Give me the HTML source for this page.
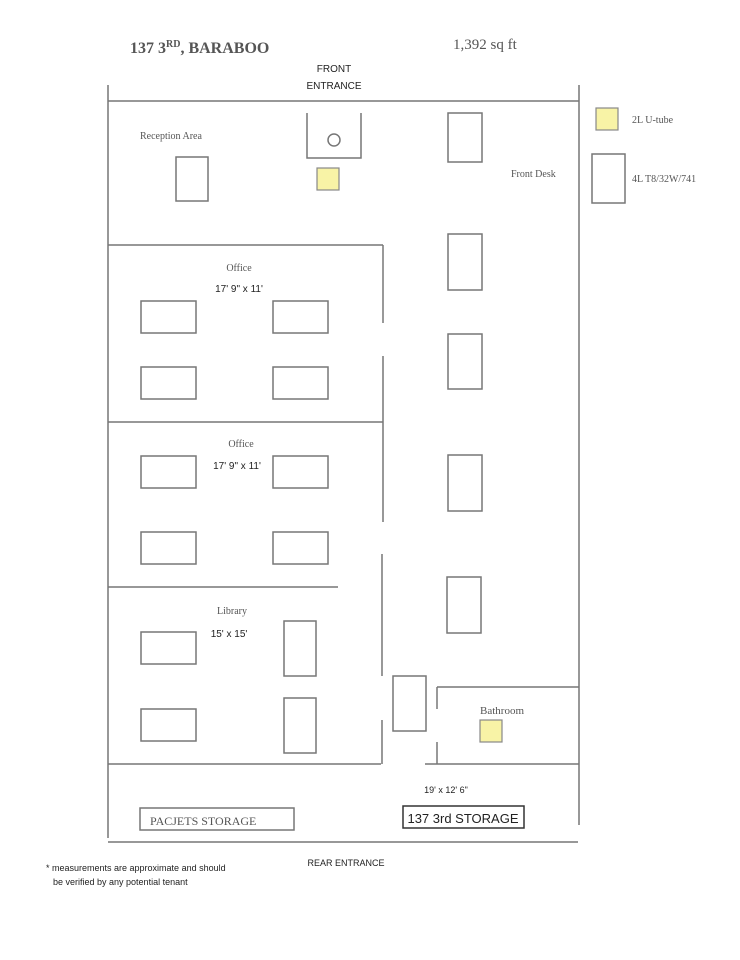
<!DOCTYPE html>
<html><head><meta charset="utf-8"><style>
html,body{margin:0;padding:0;background:#fff;}
svg{display:block;}
.s{font-family:"Liberation Serif",serif;fill:#555;}
.c{font-family:"Liberation Sans",sans-serif;fill:#222;}
</style></head><body>
<svg width="740" height="960" viewBox="0 0 740 960" xmlns="http://www.w3.org/2000/svg">
<g stroke="#777" stroke-width="1.5" fill="none">
<!-- outer -->
<line x1="108" y1="85" x2="108" y2="838"/>
<line x1="579" y1="85" x2="579" y2="825"/>
<line x1="108" y1="101" x2="579" y2="101"/>
<line x1="108" y1="842" x2="578" y2="842"/>
<!-- reception box -->
<polyline points="307,113 307,158 361,158 361,113"/>
<circle cx="334" cy="140" r="6"/>
<!-- rooms -->
<line x1="108" y1="245" x2="383" y2="245"/>
<line x1="383" y1="245" x2="383" y2="323"/>
<line x1="383" y1="356" x2="383" y2="522"/>
<line x1="382" y1="554" x2="382" y2="676"/>
<line x1="382" y1="720" x2="382" y2="764"/>
<line x1="108" y1="422" x2="383" y2="422"/>
<line x1="108" y1="587" x2="338" y2="587"/>
<line x1="108" y1="764" x2="381" y2="764"/>
<!-- bathroom -->
<line x1="437" y1="687" x2="579" y2="687"/>
<line x1="437" y1="687" x2="437" y2="709"/>
<line x1="437" y1="742" x2="437" y2="764"/>
<line x1="425" y1="764" x2="579" y2="764"/>
<!-- fixtures -->
<rect x="176" y="157" width="32" height="44"/>
<rect x="448" y="113" width="34" height="49"/>
<rect x="592" y="154" width="33" height="49"/>
<rect x="448" y="234" width="34" height="56"/>
<rect x="448" y="334" width="34" height="55"/>
<rect x="448" y="455" width="34" height="56"/>
<rect x="447" y="577" width="34" height="56"/>
<rect x="393" y="676" width="33" height="55"/>
<rect x="141" y="301" width="55" height="32"/>
<rect x="273" y="301" width="55" height="32"/>
<rect x="141" y="367" width="55" height="32"/>
<rect x="273" y="367" width="55" height="32"/>
<rect x="141" y="456" width="55" height="32"/>
<rect x="273" y="456" width="55" height="32"/>
<rect x="141" y="532" width="55" height="32"/>
<rect x="273" y="532" width="55" height="32"/>
<rect x="141" y="632" width="55" height="32"/>
<rect x="141" y="709" width="55" height="32"/>
<rect x="284" y="621" width="32" height="55"/>
<rect x="284" y="698" width="32" height="55"/>
<rect x="140" y="808" width="154" height="22"/>
<rect x="403" y="806" width="121" height="22" stroke="#333"/>
</g>
<g fill="#f8f3a6" stroke="#888" stroke-width="1.2">
<rect x="317" y="168" width="22" height="22"/>
<rect x="596" y="108" width="22" height="22"/>
<rect x="480" y="720" width="22" height="22"/>
</g>
<text x="130" y="53" class="s" font-size="16" font-weight="bold">137 3<tspan font-size="10" dy="-6">RD</tspan><tspan dy="6">, BARABOO</tspan></text>
<text x="453" y="49" class="s" font-size="15">1,392 sq ft</text>
<text x="334" y="72" class="c" font-size="10" text-anchor="middle">FRONT</text>
<text x="334" y="89" class="c" font-size="10" text-anchor="middle">ENTRANCE</text>
<text x="140" y="139" class="s" font-size="10">Reception Area</text>
<text x="511" y="177" class="s" font-size="10">Front Desk</text>
<text x="632" y="123" class="s" font-size="10">2L U-tube</text>
<text x="632" y="182" class="s" font-size="10">4L T8/32W/741</text>
<text x="239" y="271" class="s" font-size="10" text-anchor="middle">Office</text>
<text x="239" y="292" class="c" font-size="10" text-anchor="middle">17' 9" x 11'</text>
<text x="241" y="447" class="s" font-size="10" text-anchor="middle">Office</text>
<text x="237" y="469" class="c" font-size="10" text-anchor="middle">17' 9" x 11'</text>
<text x="232" y="614" class="s" font-size="10" text-anchor="middle">Library</text>
<text x="229" y="637" class="c" font-size="10" text-anchor="middle">15' x 15'</text>
<text x="502" y="714" class="s" font-size="11" text-anchor="middle">Bathroom</text>
<text x="446" y="793" class="c" font-size="9" text-anchor="middle">19' x 12' 6"</text>
<text x="150" y="825" class="s" font-size="12">PACJETS STORAGE</text>
<text x="463" y="823" class="c" font-size="13" text-anchor="middle" fill="#000">137 3rd STORAGE</text>
<text x="346" y="866" class="c" font-size="9" text-anchor="middle">REAR ENTRANCE</text>
<text x="46" y="871" class="c" font-size="9">* measurements are approximate  and should</text>
<text x="53" y="885" class="c" font-size="9">be verified by any potential tenant</text>
</svg>
</body></html>
